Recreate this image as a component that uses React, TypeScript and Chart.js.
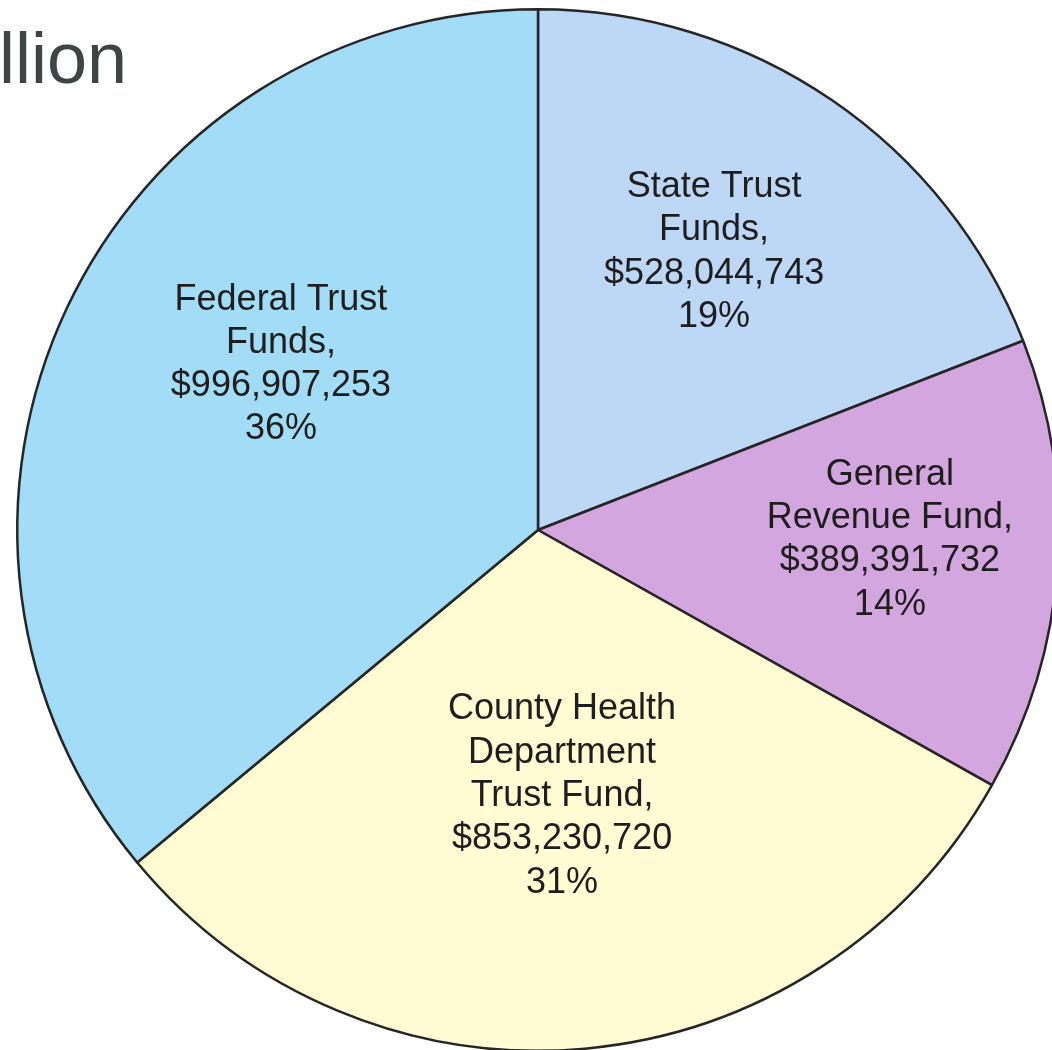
import React, { useEffect, useRef } from "react";
import { Chart, registerables } from "chart.js";

Chart.register(...registerables);

const categories = ["State Trust Funds", "General Revenue Fund", "County Health Department Trust Fund", "Federal Trust Funds"];
const labelLines = [
  ["State Trust", "Funds,"],
  ["General", "Revenue Fund,"],
  ["County Health", "Department", "Trust Fund,"],
  ["Federal Trust", "Funds,"],
];
const amounts = [528044743, 389391732, 853230720, 996907253];
const titleText = "Billion";

const sliceColors = ["#bdd7f6", "#d3a6e0", "#fffcd4", "#a2dcf6"];
const labelAngleShiftDeg = [-2, -2.4, 0, 7.6];
const labelRadiusFrac = [0.632, 0.676, 0.513, 0.587];

const labelPlugin = {
  id: "sliceLabels",
  afterDatasetsDraw(chart: any) {
    const ctx = chart.ctx;
    const meta = chart.getDatasetMeta(0);
    const total = amounts.reduce((a, b) => a + b, 0);
    ctx.save();
    ctx.fillStyle = "#1e1e1e";
    ctx.font = '36px "Liberation Sans", Arial, sans-serif';
    ctx.textAlign = "center";
    ctx.textBaseline = "middle";
    const lh = 43.3;
    meta.data.forEach((arc: any, i: number) => {
      const p = arc.getProps(["x", "y", "startAngle", "endAngle", "outerRadius"], true);
      const mid = (p.startAngle + p.endAngle) / 2 + (labelAngleShiftDeg[i] * Math.PI) / 180;
      const r = p.outerRadius * labelRadiusFrac[i];
      const cx = p.x + Math.cos(mid) * r;
      const cy = p.y + Math.sin(mid) * r;
      const lines = [
        ...labelLines[i],
        "$" + amounts[i].toLocaleString("en-US"),
        Math.round((amounts[i] / total) * 100) + "%",
      ];
      const startY = cy - ((lines.length - 1) * lh) / 2;
      lines.forEach((t, j) => ctx.fillText(t, cx, startY + j * lh));
    });
    ctx.restore();
  },
};

const titlePlugin = {
  id: "cutTitle",
  afterDraw(chart: any) {
    const ctx = chart.ctx;
    ctx.save();
    ctx.fillStyle = "#3d4545";
    ctx.font = '72px "Liberation Sans", Arial, sans-serif';
    ctx.textAlign = "right";
    ctx.textBaseline = "alphabetic";
    ctx.fillText(titleText, 127, 83);
    ctx.restore();
  },
};

export default function App() {
  const ref = useRef<HTMLCanvasElement | null>(null);
  useEffect(() => {
    if (!ref.current) return;
    const chart = new Chart(ref.current, {
      type: "pie",
      data: {
        labels: categories,
        datasets: [
          {
            data: amounts,
            backgroundColor: sliceColors,
            borderColor: "#262626",
            borderWidth: 2.5,
          },
        ],
      },
      options: {
        animation: false,
        responsive: false,
        devicePixelRatio: 1,
        layout: { padding: { left: 16, top: 8, right: 40, bottom: 48 } },
        plugins: {
          legend: { display: false },
          tooltip: { enabled: false },
          title: { display: false },
        },
      },
      plugins: [labelPlugin, titlePlugin],
    });
    return () => chart.destroy();
  }, []);
  return (
    <div
      style={{
        position: "fixed",
        left: 0,
        top: 0,
        width: 1052,
        height: 1050,
        overflow: "hidden",
        background: "#ffffff",
      }}
    >
      <canvas ref={ref} width={1100} height={1100} style={{ display: "block", width: 1100, height: 1100 }} />
    </div>
  );
}
